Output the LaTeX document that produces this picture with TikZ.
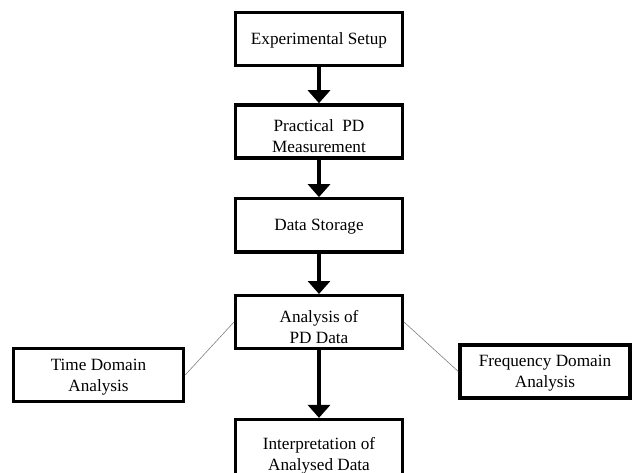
\documentclass[tikz,border=0pt]{standalone}
\usepackage{fontspec}
\setmainfont{Liberation Serif}
\usetikzlibrary{positioning,shapes,arrows.meta}
\newcommand{\lowstrut}{\rule{0pt}{21pt}}

\begin{document}
\begin{tikzpicture}[x=1pt,y=1pt,
    box/.style={draw, rectangle, line width=3.4pt, minimum width=167pt, minimum height=53pt,
        align=center, font=\fontsize{17.2}{21}\selectfont, inner sep=2pt, text depth=-3pt},
    sidebox/.style={box, minimum width=170pt},
    flow/.style={-{Triangle[width=22pt,length=13pt]}, line width=3.8pt},
    link/.style={draw=gray, line width=0.6pt}]
    \useasboundingbox (0,0) rectangle (637,-473);
    % main chain
    \node[box] (setup) at (319,-39) {Experimental Setup};
    \node[box, below=36pt of setup] (meas) {\lowstrut Practical\ \ PD\\Measurement};
    \node[box, below=37.5pt of meas] (store) {Data Storage};
    \node[box, below=40.5pt of store] (anal) {\lowstrut Analysis of\\PD Data};
    \node[box, below=67.5pt of anal, minimum height=60pt] (interp) {\lowstrut Interpretation of\\Analysed Data};
    % side branches
    \node[sidebox] (time) at (98.5,-375) {Time Domain\\Analysis};
    \node[sidebox] (freq) at (545,-371.5) {Frequency Domain\\Analysis};

    \draw[flow] (setup) -- (meas);
    \draw[flow] (meas) -- (store);
    \draw[flow] (store) -- (anal);
    \draw[flow] (anal) -- (interp);
    \draw[link] (time.east) -- (anal.west);
    \draw[link] (anal.east) -- (freq.west);
\end{tikzpicture}
\end{document}
